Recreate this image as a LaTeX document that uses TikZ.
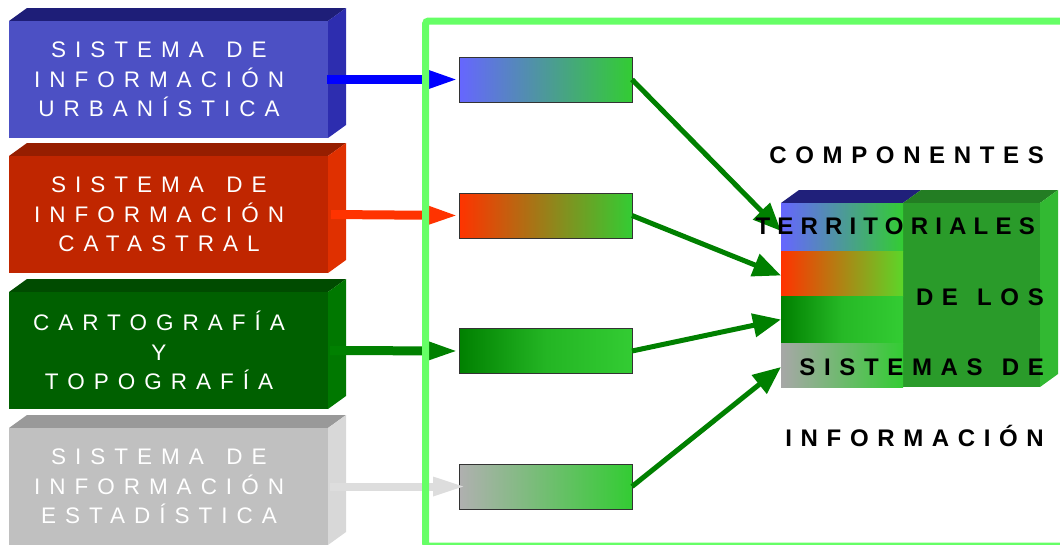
\documentclass[tikz,border=0pt]{standalone}
\usepackage{fontspec}
\setmainfont{Liberation Sans}
\newfontfamily\spaced[LetterSpace=40]{Liberation Sans}
\newfontfamily\spacedb[LetterSpace=36]{Liberation Sans Bold}
\newcommand{\wsp}{\hspace{1.0em}}
\newcommand{\wspb}{\hspace{0.8em}}
\usetikzlibrary{arrows.meta}
\definecolor{s1front}{RGB}{76,80,196}
\definecolor{s1top}{RGB}{30,30,120}
\definecolor{s1side}{RGB}{45,45,175}
\definecolor{s2front}{RGB}{192,38,0}
\definecolor{s2top}{RGB}{150,30,0}
\definecolor{s2side}{RGB}{224,48,0}
\definecolor{s3front}{RGB}{0,96,0}
\definecolor{s3top}{RGB}{0,75,0}
\definecolor{s3side}{RGB}{0,120,0}
\definecolor{s4front}{RGB}{192,192,192}
\definecolor{s4top}{RGB}{153,153,153}
\definecolor{s4side}{RGB}{216,216,216}
\definecolor{gblue}{RGB}{102,102,255}
\definecolor{gred}{RGB}{255,51,0}
\definecolor{ggreen}{RGB}{0,128,0}
\definecolor{ggray}{RGB}{176,176,176}
\definecolor{glight}{RGB}{51,204,51}
\definecolor{framegreen}{RGB}{102,255,102}
\definecolor{arrowgreen}{RGB}{0,128,0}
\definecolor{arrowred}{RGB}{255,51,0}
\definecolor{arrowgray}{RGB}{221,221,221}
\definecolor{cfront}{RGB}{42,155,42}
\definecolor{ctopl}{RGB}{32,32,122}
\definecolor{ctopr}{RGB}{35,125,35}
\definecolor{cside}{RGB}{50,185,50}
\begin{document}
\begin{tikzpicture}[x=1pt,y=-1pt,
  srcbox/.style={minimum width=319pt, minimum height=117pt, inner sep=0pt, outer sep=0pt},
  srctext/.style={inner sep=0pt, text=white, align=center, font=\spaced\fontsize{22.5}{29.5}\selectfont},
  tgtbox/.style={minimum width=173pt, minimum height=45pt, inner sep=0pt, outer sep=0pt,
    draw=black!80, line width=0.9pt},
  band/.style={minimum width=122pt, inner sep=0pt, outer sep=0pt},
  srcarrow/.style={line width=9pt, -{Triangle[length=30pt,width=16pt]}},
  garrow/.style={draw=arrowgreen, line width=5pt, -{Triangle[length=28pt,width=23pt]}},
  lbl/.style={inner sep=0pt, anchor=base east, font=\spacedb\fontsize{24}{28}\selectfont}
]
\path[use as bounding box, clip] (0,0) rectangle (1060,544);

% source boxes (3D)
\foreach \n/\yc/\c in {1/79.5/s1, 2/214.5/s2, 3/350.5/s3, 4/486.5/s4}{
  \fill[\c top] (9,\yc-58.5) -- ++(18,-13) -- (346,\yc-71.5) -- (328,\yc-58.5) -- cycle;
  \fill[\c side] (328,\yc-58.5) -- ++(18,-13) -- (346,\yc+45.5) -- (328,\yc+58.5) -- cycle;
}
\node[srcbox, fill=s1front] (s1) at (168.5,79.5) {};
\node[srcbox, fill=s2front] (s2) at (168.5,214.5) {};
\node[srcbox, fill=s3front] (s3) at (168.5,350.5) {};
\node[srcbox, fill=s4front] (s4) at (168.5,486.5) {};
\node[srctext] (s1t) at (159,79.5) {SISTEMA\wsp DE\\INFORMACIÓN\\URBANÍSTICA};
\node[srctext] (s2t) at (159,214.5) {SISTEMA\wsp DE\\INFORMACIÓN\\CATASTRAL};
\node[srctext] (s3t) at (159,350.5) {CARTOGRAFÍA\\Y\\TOPOGRAFÍA};
\node[srctext] (s4t) at (159,486.5) {SISTEMA\wsp DE\\INFORMACIÓN\\ESTADÍSTICA};

% target boxes
\node[tgtbox, left color=gblue, right color=glight] (a) at (545.5,79.5) {};
\node[tgtbox, left color=gred, right color=glight] (b) at (545.5,215.5) {};
\node[tgtbox, left color=ggreen, right color=glight, middle color=glight!70!ggreen] (c) at (545.5,351) {};
\node[tgtbox, left color=ggray, right color=glight] (d) at (545.5,486.5) {};

% source arrows
\draw[srcarrow, draw=blue, fill=blue] ([xshift=-1pt]s1.east) -- (a.west);
\draw[srcarrow, draw=arrowred, fill=arrowred] ([xshift=3pt]s2.east) -- (b.west);
\draw[srcarrow, draw=arrowgreen, fill=arrowgreen] ([xshift=2pt]s3.east) -- (c.west);
\draw[line width=8pt, draw=arrowgray, -{Triangle[length=34pt,width=17pt]}] ([xshift=2pt]s4.east) -- ([xshift=8pt]d.west);

% green frame
\draw[framegreen, line width=7pt, rounded corners=3pt] (1080,21) -- (425.5,21) -- (425.5,546) -- (1080,546);

% composite box
\fill[ctopl] (781,203) -- (799,190) -- (921,190) -- (903,203) -- cycle;
\fill[ctopr] (903,203) -- (921,190) -- (1058,190) -- (1040,203) -- cycle;
\fill[cside] (1040,203) -- (1058,190) -- (1058,374) -- (1040,387) -- cycle;
\fill[cfront] (903,203) rectangle (1040,387);
\node[band, minimum height=48pt, left color=gblue, right color=glight] (k1) at (842,227) {};
\node[band, minimum height=45pt, left color=gred, right color=glight!80!yellow] (k2) at (842,273.5) {};
\node[band, minimum height=47pt, left color=ggreen, right color=glight, middle color=glight!75!ggreen] (k3) at (842,319.5) {};
\node[band, minimum height=44pt, left color=ggray!95!black, right color=glight] (k4) at (842,365) {};

% green arrows
\draw[garrow] (a.east) -- ([yshift=-4pt]k1.west);
\draw[garrow] (b.east) -- ([yshift=-2pt]k2.west);
\draw[garrow] (c.east) -- (k3.west);
\draw[garrow] (d.east) -- ([yshift=-2pt]k4.west);

% labels
\node[lbl] (t1) at (1044,163) {COMPONENTES};
\node[lbl, font=\spacedb\fontsize{24}{28}\selectfont\addfontfeature{LetterSpace=30}] (t2) at (1035,234) {TERRITORIALES};
\node[lbl] (t3) at (1044,305) {DE\wspb LOS};
\node[lbl] (t4) at (1044,375) {SISTEMAS\wspb DE};
\node[lbl] (t5) at (1044,446.7) {INFORMACIÓN};
\end{tikzpicture}
\end{document}
